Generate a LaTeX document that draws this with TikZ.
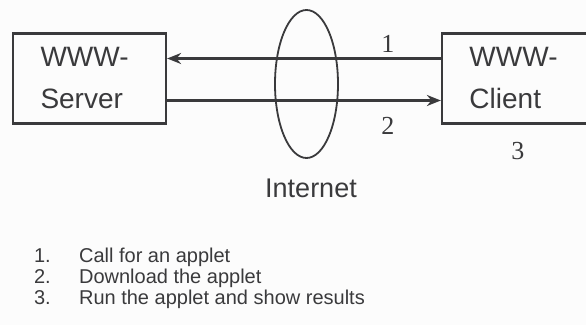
\documentclass[tikz,border=0pt]{standalone}
\usepackage{fontspec}
\setmainfont{Liberation Serif}
\setsansfont{Liberation Sans}
\usetikzlibrary{arrows.meta,shapes.geometric}
\definecolor{WebInk}{HTML}{3A3A3C}
\definecolor{WebPaper}{HTML}{FCFCFC}

\begin{document}
\begin{tikzpicture}[x=0.5pt,y=-0.5pt,line width=1.1pt,draw=WebInk,text=WebInk,
  host/.style={draw,rectangle,minimum width=76.5pt,minimum height=45pt,
    text width=49pt,inner xsep=13.75pt,align=left,
    font=\sffamily\fontsize{14}{21}\selectfont},
  flow/.style={-{Stealth[length=7pt,width=5.5pt]}},
  step label/.style={font=\fontsize{13}{13}\selectfont}]
  \fill[WebPaper] (0,0) rectangle (586,325);
  \useasboundingbox (0,0) rectangle (586,325);
  \node[host] (server) at (89.5,78.5) {WWW-\\Server};
  \node[host] (client) at (518.5,78.5) {WWW-\\Client};
  \node[draw,ellipse,line width=0.9pt,inner sep=0pt,minimum width=31.5pt,
    minimum height=74pt] (net) at (306.5,84) {};
  \draw[flow] ([yshift=10pt]client.west) -- ([yshift=10pt]server.east);
  \draw[flow] ([yshift=-11pt]server.east) -- ([yshift=-11pt]client.west);
  \node[step label] (one) at (388,44) {1};
  \node[step label] (two) at (388,126) {2};
  \node[step label] (three) at (518,151) {3};
  \node[font=\sffamily\fontsize{13.5}{13.5}\selectfont] (netlabel) at (311,188) {Internet};
  \node[anchor=north west,inner sep=0pt,align=left,
    font=\sffamily\fontsize{10}{10.5}\selectfont] (steps) at (33,247)
    {\makebox[22.5pt][l]{1.}Call for an applet\\
     \makebox[22.5pt][l]{2.}Download the applet\\
     \makebox[22.5pt][l]{3.}Run the applet and show results};
\end{tikzpicture}
\end{document}
